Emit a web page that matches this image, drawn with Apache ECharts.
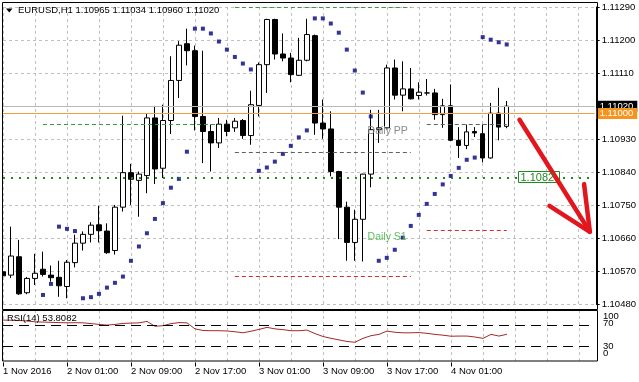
<!DOCTYPE html>
<html><head><meta charset="utf-8">
<script src="https://cdn.jsdelivr.net/npm/echarts@6/dist/echarts.min.js"></script>
<style>html,body{margin:0;padding:0;background:#fff}#c{width:639px;height:382px}</style>
</head><body><div id="c"></div>
<script>
// ---------- data ----------
const symbolName = 'EURUSD,H1';
const xTickLabels = ['1 Nov 2016','2 Nov 01:00','2 Nov 09:00','2 Nov 17:00','3 Nov 01:00','3 Nov 09:00','3 Nov 17:00','4 Nov 01:00'];
const opens = [1.10569,1.10560,1.10610,1.10512,1.10551,1.10576,1.10560,1.10554,1.10529,1.10594,1.10647,1.10671,1.10697,1.10680,1.10627,1.10745,
1.10839,1.10818,1.10831,1.10988,1.10851,1.10981,1.11090,1.11190,1.11171,1.10992,1.10951,1.10920,1.10971,1.10961,1.10981,1.10940,
1.11022,1.11133,1.11256,1.11162,1.11151,1.11104,1.11145,1.11212,1.10974,1.10958,1.10842,1.10745,1.10649,1.10712,1.10835,1.10956,
1.10961,1.11124,1.11050,1.11067,1.11049,1.11056,1.11056,1.10997,1.11021,1.10927,1.10913,1.10951,1.10945,1.10879,1.11001,1.10965];
const closes = [1.10558,1.10612,1.10509,1.10551,1.10565,1.10562,1.10553,1.10531,1.10595,1.10647,1.10671,1.10696,1.10681,1.10621,1.10745,1.10839,
1.10821,1.10835,1.10988,1.10849,1.10981,1.11090,1.11186,1.11171,1.10992,1.10951,1.10920,1.10971,1.10951,1.10979,1.10940,1.11024,
1.11133,1.11256,1.11162,1.11151,1.11106,1.11145,1.11215,1.10974,1.10958,1.10842,1.10745,1.10649,1.10712,1.10835,1.10956,1.10961,
1.11124,1.11050,1.11067,1.11040,1.11058,1.11056,1.10997,1.11021,1.10927,1.10913,1.10950,1.10947,1.10879,1.11001,1.10963,1.11020];
const highs = [1.10648,1.10692,1.10656,1.10555,1.10618,1.10624,1.10586,1.10599,1.10601,1.10670,1.10679,1.10704,1.10749,1.10701,1.10751,1.10994,
1.10863,1.10842,1.11001,1.11019,1.11024,1.11156,1.11197,1.11231,1.11185,1.11171,1.10970,1.10988,1.10983,1.10988,1.10985,1.11062,
1.11139,1.11258,1.11258,1.11218,1.11165,1.11206,1.11258,1.11215,1.11038,1.11006,1.10844,1.10760,1.10738,1.10836,1.11010,1.11010,
1.11133,1.11147,1.11142,1.11124,1.11085,1.11094,1.11067,1.11040,1.11079,1.10963,1.10970,1.10963,1.10970,1.11029,1.11070,1.11034];
const lows = [1.10511,1.10552,1.10506,1.10508,1.10533,1.10556,1.10542,1.10501,1.10497,1.10581,1.10627,1.10649,1.10649,1.10618,1.10616,1.10733,
1.10751,1.10719,1.10783,1.10808,1.10824,1.10944,1.11042,1.11131,1.10954,1.10865,1.10842,1.10906,1.10938,1.10950,1.10931,1.10915,
1.10992,1.11056,1.11147,1.11142,1.11085,1.11102,1.11142,1.10942,1.10931,1.10829,1.10658,1.10599,1.10599,1.10597,1.10799,1.10920,
1.10956,1.11038,1.11006,1.11038,1.11038,1.11049,1.10983,1.10961,1.10925,1.10879,1.10903,1.10936,1.10867,1.10877,1.10927,1.10960];
const sar = [null,null,null,null,null,1.10506,1.10536,1.10692,1.10686,1.10680,1.10497,1.10500,1.10509,1.10526,1.10539,1.10556,
1.10599,1.10638,1.10674,1.10713,1.10756,1.10798,1.10822,1.10896,1.11231,1.11231,1.11218,1.11196,1.11174,1.11154,1.11136,1.11120,
1.10844,1.10853,1.10869,1.10890,1.10912,1.10935,1.10954,1.11259,1.11259,1.11245,1.11220,1.11174,1.11117,1.11057,1.10992,1.10599,
1.10607,1.10629,1.10662,1.10694,1.10724,1.10754,1.10781,1.10807,1.10830,1.10852,1.10874,1.10880,1.11208,1.11201,1.11194,1.11188];
const rsi = [80.8,80.5,80,79,77.5,77,76.5,76,75.6,75.8,75.6,74,72.5,71.2,72.5,74.4,
75,75.5,78.2,69,70,74,76,75.5,64,61,60.5,60.5,60,58.5,56.6,59.5,
63,66.9,64,62.5,60.5,60.5,61.7,55,49.5,46,43,40,38.5,46,51,53.5,
59.8,57.5,56.5,56.5,57,55.5,53.5,52,50,50.3,50.3,48.5,45.9,53.5,50.3,53.8082];
const rsiLevels = [70, 30];
const rsiAxisLabels = ['100','70','30','0'];
const bidPrice = 1.11020;
const levelPrice = 1.11000;
const hLinePrice = 1.10826;
const hLineLabel = '1.1082';
const dayStart = [5, 29, 53];
const dayEnd = [27, 51, 63];
const dailyR = [1.10970, 1.11290, null];
const dailyPP = [null, 1.10895, 1.10971];
const dailyS1 = [null, 1.10556, 1.10683];
const arrowTimes = [64.6, 73.4];
const arrowPrices = [1.10983, 1.10678];

// ---------- build ----------
const N = 75;
const cats = [];
for (let k = 0; k < N; k++) { const t = 17 + k; const d = 1 + Math.floor(t / 24); const h = t % 24; cats.push(d + ' Nov ' + String(h).padStart(2, '0') + ':00'); }
const nBars = opens.length;
const candles = opens.map((o, k) => [o, closes[k], lows[k], highs[k]]);
const FONT = '"Liberation Sans", Arial, sans-serif';
const gridLS = { color: '#c0c0c0', type: [3, 3], width: 1 };
const labelOn = (idx) => idx % 8 === 0 && idx / 8 < xTickLabels.length;

const pivotLines = [];
function addSeg(arr, color, type) {
  arr.forEach((p, i) => {
    if (p == null) return;
    const ls = { color: color, type: type, width: 1 };
    pivotLines.push([{ coord: [dayStart[i], p], lineStyle: ls, label: { show: false } }, { coord: [dayEnd[i], p], lineStyle: ls, label: { show: false } }]);
  });
}
addSeg(dailyR, '#3c9a3c', [4, 3]);
addSeg(dailyPP, '#606060', [4, 3]);
addSeg(dailyS1, '#d42a2a', [4, 3]);

const boxLabel = (bg) => ({ show: true, position: 'end', distance: 2, color: '#fff', backgroundColor: bg, padding: [1, 4, 0, 3], fontSize: 9.5, fontFamily: FONT, lineHeight: 10 });

const option = {
  animation: false,
  backgroundColor: '#fff',
  grid: [{ left: 3, top: 7, width: 592, height: 297.5 }, { left: 3, top: 310, width: 592, height: 52.45 }],
  xAxis: [
    { type: 'category', data: cats, boundaryGap: false, gridIndex: 0, axisLine: { show: false }, axisTick: { show: false }, axisLabel: { show: false }, splitLine: { show: true, interval: 3, lineStyle: gridLS } },
    { type: 'category', data: cats, boundaryGap: false, gridIndex: 1, axisLine: { show: false },
      axisTick: { show: true, interval: (i) => labelOn(i), length: 4, lineStyle: { color: '#000' } },
      axisLabel: { show: true, interval: (i) => labelOn(i), formatter: (v, i) => xTickLabels[i / 8], align: 'left', margin: 4, fontSize: 9.5, color: '#000', fontFamily: FONT },
      splitLine: { show: true, interval: 3, lineStyle: gridLS } }
  ],
  yAxis: [
    { type: 'value', gridIndex: 0, position: 'right', offset: 2, min: 1.10480, max: 1.11290, interval: 0.0009,
      axisLine: { show: true, lineStyle: { color: '#000' } }, axisTick: { show: true, length: 3, lineStyle: { color: '#000' } },
      axisLabel: { margin: 5, fontSize: 9.5, color: '#000', fontFamily: FONT, formatter: (v) => v.toFixed(5) },
      splitLine: { show: true, lineStyle: gridLS } },
    { type: 'value', gridIndex: 1, position: 'right', offset: 2, min: 0, max: 100, axisLine: { show: false }, axisTick: { show: false }, axisLabel: { show: false }, splitLine: { show: false } }
  ],
  series: [
    { type: 'candlestick', xAxisIndex: 0, yAxisIndex: 0, data: candles, barWidth: 5,
      itemStyle: { color: '#ffffff', color0: '#000000', borderColor: '#000000', borderColor0: '#000000', borderWidth: 1 },
      markLine: { silent: true, symbol: ['none', 'none'], animation: false, precision: 5,
        data: [
          { yAxis: hLinePrice, lineStyle: { color: '#1f8a1f', type: [2, 6], width: 2 }, label: { show: false } },
          ...pivotLines,
          { yAxis: bidPrice, lineStyle: { color: '#b8b8b8', type: 'solid', width: 1 }, label: Object.assign(boxLabel('#000'), { formatter: bidPrice.toFixed(5) }) },
          { yAxis: levelPrice, lineStyle: { color: '#f0a040', type: 'solid', width: 1 }, label: Object.assign(boxLabel('#f7941d'), { formatter: levelPrice.toFixed(5) }) }
        ] } },
    { type: 'scatter', xAxisIndex: 0, yAxisIndex: 0, data: sar, symbol: 'rect', symbolSize: 4, itemStyle: { color: '#000080' }, z: 3 },
    { type: 'line', xAxisIndex: 1, yAxisIndex: 1, data: rsi, symbol: 'none', lineStyle: { color: '#a52a2a', width: 1 },
      markLine: { silent: true, symbol: ['none', 'none'], label: { show: false }, lineStyle: { color: '#000', type: [10, 6], width: 1 },
        data: rsiLevels.map(v => ({ yAxis: v })) } }
  ]
};

const chart = echarts.init(document.getElementById('c'));
chart.setOption(option);

// ---------- annotations placed through the chart's scales ----------
const P = (k, p) => {
  const a = chart.convertToPixel({ xAxisIndex: 0, yAxisIndex: 0 }, [0, p]);
  const b = chart.convertToPixel({ xAxisIndex: 0, yAxisIndex: 0 }, [1, p]);
  return [a[0] + k * (b[0] - a[0]), a[1]];
};
const tip = P(arrowTimes[1], arrowPrices[1]);
const tail = P(arrowTimes[0], arrowPrices[0]);
const ang = Math.atan2(tail[1] - tip[1], tail[0] - tip[0]);
const wing = (d) => [tip[0] + 48 * Math.cos(ang + d), tip[1] + 48 * Math.sin(ang + d)];
const hl = P(64.4, hLinePrice);
const ppPos = P(45.6, dailyPP[2]);
const s1Pos = P(45.6, dailyS1[2]);
const last = nBars - 1;
const title = symbolName + ' ' + [opens[last], highs[last], lows[last], closes[last]].map(v => v.toFixed(5)).join(' ');
const txt = (x, y, s, color, size, extra) => Object.assign({ type: 'text', x: x, y: y, z: 50, style: { text: s, fill: color, font: size + 'px ' + FONT, textVerticalAlign: 'middle' } }, extra || {});

chart.setOption({
  graphic: [
    { type: 'rect', z: 40, shape: { x: 0, y: 0, width: 2.5, height: 382 }, style: { fill: '#fff' } },
    { type: 'rect', z: 41, shape: { x: 2.5, y: 2.5, width: 595, height: 307 }, style: { fill: 'none', stroke: '#000', lineWidth: 1 } },
    { type: 'rect', z: 41, shape: { x: 2.5, y: 310.5, width: 595, height: 50.5 }, style: { fill: 'none', stroke: '#000', lineWidth: 1 } },
    { type: 'polygon', z: 50, shape: { points: [[6, 8.5], [12.5, 8.5], [9.25, 12.5]] }, style: { fill: '#000' } },
    txt(18, 10.5, title, '#000', 9.5),
    txt(7, 318, 'RSI(14) ' + rsi[last].toFixed(4), '#000', 9.5),
    txt(603, 316, rsiAxisLabels[0], '#000', 9.5),
    txt(603, 323, rsiAxisLabels[1], '#000', 9.5),
    txt(603, 346.7, rsiAxisLabels[2], '#000', 9.5),
    txt(603, 353, rsiAxisLabels[3], '#000', 9.5),
    txt(ppPos[0], ppPos[1] + 7, 'Daily PP', '#8a8a8a', 10.5),
    txt(s1Pos[0], s1Pos[1] + 7, 'Daily S1', '#5cbf5c', 10.5),
    { type: 'rect', z: 45, shape: { x: Math.round(hl[0]) + 0.5, y: Math.round(hl[1]) - 5.5, width: 41, height: 11 }, style: { fill: '#fff', stroke: '#1f8a1f', lineWidth: 1 } },
    txt(Math.round(hl[0]) + 2.5, Math.round(hl[1]) + 0.5, hLineLabel, '#1f8a1f', 11),
    { type: 'polyline', z: 48, shape: { points: [tail, tip] }, style: { stroke: '#e3161e', lineWidth: 4.5, lineCap: 'round', fill: null } },
    { type: 'polyline', z: 48, shape: { points: [wing(0.44), tip, wing(-0.44)] }, style: { stroke: '#e3161e', lineWidth: 4.5, lineCap: 'round', lineJoin: 'round', fill: null } }
  ]
});
</script>
</body></html>
